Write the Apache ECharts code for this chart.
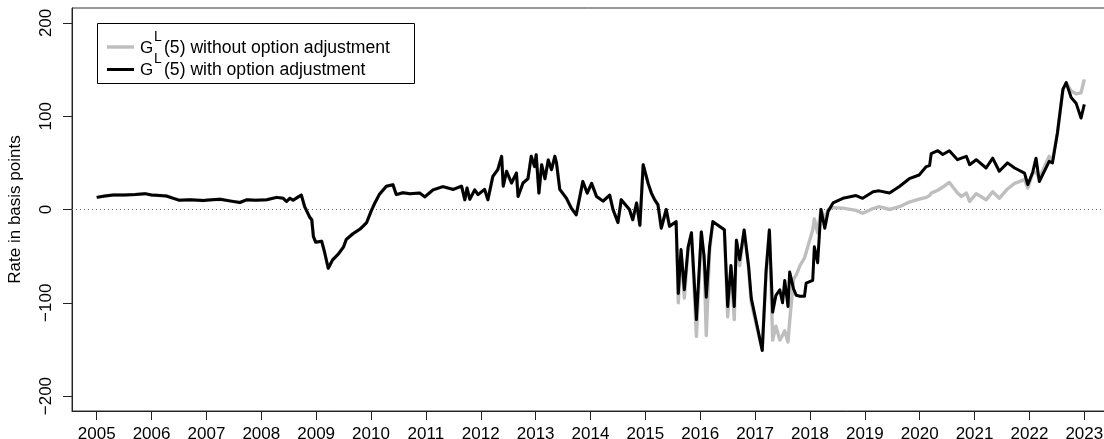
<!DOCTYPE html>
<html>
<head>
<meta charset="utf-8">
<script src="https://cdn.jsdelivr.net/npm/echarts@6/dist/echarts.min.js"></script>
<style>
  html, body { margin: 0; padding: 0; background: #fff; }
  #chart { width: 1104px; height: 439px; }
</style>
</head>
<body>
<div id="chart"></div>
<script>
// Observation dates in decimal years
const dates = [
  2005.00, 2005.15, 2005.30, 2005.50, 2005.70, 2005.88, 2006.00, 2006.15, 2006.27, 2006.40,
  2006.50, 2006.70, 2006.94, 2007.10, 2007.25, 2007.45, 2007.61, 2007.73, 2007.90, 2008.10,
  2008.28, 2008.40, 2008.46, 2008.52, 2008.58, 2008.66, 2008.73, 2008.79, 2008.88, 2008.92,
  2008.95, 2008.99, 2009.10, 2009.15, 2009.22, 2009.30, 2009.40, 2009.50, 2009.55, 2009.67,
  2009.80, 2009.92, 2010.00, 2010.07, 2010.15, 2010.28, 2010.40, 2010.46, 2010.58, 2010.71,
  2010.89, 2010.98, 2011.13, 2011.31, 2011.50, 2011.65, 2011.71, 2011.75, 2011.80, 2011.89,
  2011.95, 2012.07, 2012.13, 2012.22, 2012.31, 2012.38, 2012.41, 2012.47, 2012.56, 2012.65,
  2012.68, 2012.77, 2012.86, 2012.92, 2012.98, 2013.01, 2013.06, 2013.11, 2013.17, 2013.23,
  2013.29, 2013.35, 2013.38, 2013.44, 2013.56, 2013.65, 2013.74, 2013.86, 2013.94, 2014.02,
  2014.11, 2014.23, 2014.35, 2014.41, 2014.50, 2014.56, 2014.71, 2014.77, 2014.84, 2014.90,
  2014.96, 2015.05, 2015.11, 2015.17, 2015.23, 2015.29, 2015.38, 2015.44, 2015.56, 2015.60,
  2015.65, 2015.71, 2015.78, 2015.84, 2015.93, 2016.02, 2016.07, 2016.11, 2016.17, 2016.23,
  2016.44, 2016.50, 2016.56, 2016.62, 2016.66, 2016.72, 2016.80, 2016.88, 2016.93, 2017.13,
  2017.20, 2017.26, 2017.32, 2017.38, 2017.45, 2017.50, 2017.54, 2017.60, 2017.63, 2017.70,
  2017.75, 2017.82, 2017.90, 2017.93, 2018.05, 2018.08, 2018.14, 2018.20, 2018.27, 2018.33,
  2018.42, 2018.60, 2018.84, 2018.96, 2019.15, 2019.26, 2019.45, 2019.63, 2019.81, 2019.99,
  2020.12, 2020.18, 2020.21, 2020.33, 2020.42, 2020.54, 2020.69, 2020.76, 2020.85, 2020.91,
  2021.03, 2021.21, 2021.33, 2021.45, 2021.60, 2021.73, 2021.91, 2021.97, 2022.06, 2022.12,
  2022.18, 2022.36, 2022.42, 2022.51, 2022.61, 2022.67, 2022.76, 2022.85, 2022.94, 2023.00
];

// G^L(5) with option adjustment, basis points
const withOption = [
  13, 14.5, 15.5, 15.5, 16, 17, 15.5, 15, 14.5, 12,
  10, 10.5, 9.7, 10.5, 11, 9, 7.5, 10.4, 10, 10.5,
  13, 12, 8.6, 12, 10, 13, 15.5, 3, -8, -11,
  -29, -35, -34, -45, -63, -54, -48, -40, -32, -26,
  -21, -14, -2, 7, 16, 25, 26.6, 16, 18, 17,
  17.6, 13.5, 21, 24.5, 21.5, 25, 10.4, 23, 11, 21,
  16, 21.6, 10.4, 35.5, 42.7, 57, 25, 41, 28.4, 39,
  14, 28.4, 33, 57, 46, 58.8, 17.6, 48, 33, 53,
  42.7, 57, 50, 21.6, 12.2, 1.5, -5.7, 30, 17.6, 28,
  14, 9, 15.4, 0, -14, 10.4, 0, -11, 7, -17,
  48, 28, 17.6, 10.4, 5, -20, 0, -18, -13, -90,
  -43, -86, -40, -25, -118, -24, -50, -94, -40, -13,
  -21.8, -104, -60, -104, -33, -54, -22, -60, -95, -151,
  -66, -22, -110, -92, -86, -100, -76, -104, -67, -85,
  -92, -93, -93, -79, -76, -40, -57, 0, -20, -2,
  7, 12, 15, 12, 19, 20, 17.6, 24.7, 33, 37,
  46, 47, 60, 63, 59, 63, 53.4, 55, 57, 48,
  53.4, 44.5, 55, 41, 50, 44.5, 39, 26.6, 40, 55,
  30, 51.6, 50, 82, 128.7, 136, 120, 114, 98, 112.6
];

// G^L(5) without option adjustment, basis points
const withoutOption = [
  13, 14.5, 15.5, 15.5, 16, 17, 15.5, 15, 14.5, 12,
  10, 10.5, 9.7, 10.5, 11, 9, 7.5, 10.4, 10, 10.5,
  13, 12, 8.6, 12, 10, 13, 15.5, 3, -8, -11,
  -29, -35, -34, -45, -63, -54, -48, -40, -32, -26,
  -21, -14, -2, 7, 16, 25, 26.6, 16, 18, 17,
  17.6, 13.5, 21, 24.5, 21.5, 25, 10.4, 23, 11, 21,
  16, 21.6, 10.4, 35.5, 42.7, 57, 25, 41, 28.4, 39,
  14, 28.4, 33, 57, 46, 58.8, 17.6, 48, 33, 53,
  42.7, 57, 50, 21.6, 12.2, 1.5, -5.7, 30, 17.6, 28,
  14, 9, 15.4, 0, -14, 10.4, 0, -11, 7, -17,
  48, 28, 17.6, 10.4, 5, -20, 0, -18, -13, -100,
  -45, -95, -42, -25, -136, -24, -55, -135, -45, -13,
  -21.8, -115, -62, -118, -33, -60, -22, -62, -100, -151,
  -68, -22, -140, -125, -140, -135, -130, -142, -120, -75,
  -70, -60, -52, -50, -22, -10, -25, 0, -10, 0,
  2, 1.5, -1, -4, 1, 3, 0, 3, 8, 11,
  13, 15, 17.6, 20.6, 24, 29, 17.6, 14, 17.6, 8.6,
  17, 10.4, 19, 12, 22, 28, 32, 23, 39, 40,
  33.7, 57, 53, 82, 128.7, 136, 127, 124, 125, 139.5
];

const yearTicks = [2005, 2006, 2007, 2008, 2009, 2010, 2011, 2012, 2013, 2014,
  2015, 2016, 2017, 2018, 2019, 2020, 2021, 2022, 2023];
const rateTicks = [-200, -100, 0, 100, 200];

const legendLabels = ['(5) without option adjustment', '(5) with option adjustment'];

const pairs = vals => dates.map((d, i) => [d, vals[i]]);

const FONT = 'Liberation Sans, Arial, Helvetica, sans-serif';
const GRAY = '#bebebe';
const BLACK = '#000000';

// Boxed key in the upper left corner: a line sample, then G with a superscript L and the label
function legendBox() {
  const colors = [GRAY, BLACK];
  const widths = [3.4, 3];
  const rowY = [47, 69.5];
  const items = [{
    type: 'rect',
    shape: { x: 97.5, y: 23.5, width: 317, height: 60 },
    style: { fill: '#fff', stroke: '#000', lineWidth: 1 },
    z: 100
  }];
  rowY.forEach((y, i) => {
    items.push({
      type: 'line',
      shape: { x1: 107, y1: y, x2: 134, y2: y },
      style: { stroke: colors[i], lineWidth: widths[i] },
      z: 101
    });
    items.push({
      type: 'text', x: 140, y: y + 1,
      style: { text: 'G', font: '17px ' + FONT, fill: '#000', verticalAlign: 'middle', align: 'left' },
      z: 101
    });
    items.push({
      type: 'text', x: 154, y: y - 10,
      style: { text: 'L', font: '14px ' + FONT, fill: '#000', verticalAlign: 'middle', align: 'left' },
      z: 101
    });
    items.push({
      type: 'text', x: 164, y: y + 1,
      style: { text: legendLabels[i], font: '17.6px ' + FONT, fill: '#000', verticalAlign: 'middle', align: 'left' },
      z: 101
    });
  });
  return items;
}

const chart = echarts.init(document.getElementById('chart'), null, { renderer: 'canvas' });

chart.setOption({
  animation: false,
  backgroundColor: '#ffffff',
  textStyle: { fontFamily: FONT, color: '#000' },
  grid: {
    left: 72, top: 8, right: -5, bottom: 28,
    containLabel: false,
    outerBoundsMode: 'none',
    show: true, borderColor: '#333', borderWidth: 1, backgroundColor: 'transparent'
  },
  graphic: legendBox(),
  xAxis: {
    type: 'value',
    min: 2004.55,
    max: 2023.45,
    splitLine: { show: false },
    axisLine: { show: true, onZero: false, lineStyle: { color: '#222', width: 1 } },
    axisTick: { show: true, customValues: yearTicks, length: 9, lineStyle: { color: '#222' } },
    axisLabel: {
      customValues: yearTicks,
      formatter: v => String(v),
      fontSize: 17, fontFamily: FONT, color: '#000', margin: 15
    }
  },
  yAxis: {
    type: 'value',
    min: -216,
    max: 216,
    name: 'Rate in basis points',
    nameLocation: 'middle',
    nameGap: 48,
    nameRotate: 90,
    nameMoveOverlap: false,
    nameTextStyle: { fontSize: 17, fontFamily: FONT, color: '#000' },
    splitLine: { show: false },
    axisLine: { show: true, onZero: false, lineStyle: { color: '#222', width: 1 } },
    axisTick: { show: true, customValues: rateTicks, length: 9, lineStyle: { color: '#222' } },
    axisLabel: {
      customValues: rateTicks,
      rotate: 90,
      formatter: v => (v < 0 ? '\u2212' + Math.abs(v) : String(v)),
      fontSize: 17, fontFamily: FONT, color: '#000', margin: 17
    }
  },
  series: [
    {
      name: 'without option adjustment',
      type: 'line',
      data: pairs(withoutOption),
      symbol: 'none',
      lineStyle: { color: GRAY, width: 3.4, join: 'round' },
      itemStyle: { color: GRAY },
      z: 2,
      markLine: {
        silent: true,
        symbol: 'none',
        label: { show: false },
        lineStyle: { color: '#666', width: 1, type: [1, 3] },
        data: [{ yAxis: 0 }],
        z: 1
      }
    },
    {
      name: 'with option adjustment',
      type: 'line',
      data: pairs(withOption),
      symbol: 'none',
      lineStyle: { color: BLACK, width: 3, join: 'round' },
      itemStyle: { color: BLACK },
      z: 3
    }
  ]
});
</script>
</body>
</html>
